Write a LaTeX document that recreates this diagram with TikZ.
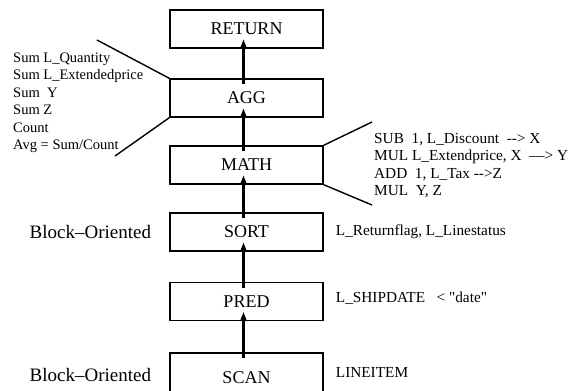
\documentclass[tikz,border=0pt]{standalone}
\usepackage{fontspec}
\setmainfont{Liberation Serif}
\usetikzlibrary{positioning,arrows.meta}
\tikzset{
  opbox/.style={draw,line width=1.4pt,minimum width=153pt,minimum height=38pt,inner sep=0pt,font=\fontsize{18}{21}\selectfont},
  flow/.style={line width=2.6pt,-{Stealth[length=9pt,width=7pt]}},
  biglabel/.style={font=\fontsize{19}{22}\selectfont,inner sep=0pt},
  smalllabel/.style={font=\fontsize{14.5}{17.5}\selectfont,inner sep=0pt,align=left},
  sidelabel/.style={font=\fontsize{15.3}{17.5}\selectfont,inner sep=0pt,align=left},
  callout/.style={line width=1.4pt}
}
\begin{document}
\begin{tikzpicture}[x=1pt,y=-1pt]
        \useasboundingbox (0,0) rectangle (571,391);
        %% operator boxes
        \node[opbox] (return) at (246.5,29) {RETURN};
        \node[opbox] (agg) at (246.5,98) {AGG};
        \node[opbox] (math) at (246.5,165) {MATH};
        \node[opbox] (sort) at (246.5,232) {SORT};
        \node[opbox] (pred) at (246.5,301.5) {PRED};
        \node[opbox,minimum height=50pt] (scan) at (246.5,378) {SCAN};
        %% data flow
        \foreach \lo/\hi in {scan/pred,pred/sort,sort/math,math/agg,agg/return}
            \draw[flow] ([xshift=-3pt,yshift=-6pt]\lo.north) -- ([xshift=-3pt,yshift=9pt]\hi.south);
        %% callouts
        \coordinate (aggup) at (97,40);
        \coordinate (agglo) at (115,156);
        \coordinate (mathup) at (372,122);
        \coordinate (mathlo) at (372,205);
        \draw[callout] (agg.north west) -- (aggup);
        \draw[callout] (agg.south west) -- (agglo);
        \draw[callout] (math.north east) -- (mathup);
        \draw[callout] (math.south east) -- (mathlo);
        %% aggregates and expressions
        \node[smalllabel,anchor=west] (aggops) at (13,103) {Sum L\_Quantity\\Sum L\_Extendedprice\\Sum\ \ Y\\Sum Z\\Count\\Avg = Sum/Count};
        \node[sidelabel,anchor=west] (mathops) at (374,165.5) {SUB\ \ 1, L\_Discount\ \ -{}-> X\\MUL\ L\_Extendprice, X\ \ ---> Y\\ADD\ \ 1, L\_Tax -{}->Z\\MUL\ \ Y, Z};
        %% keys and tables
        \node[sidelabel,right=12pt of sort] (sortkeys) {L\_Returnflag, L\_Linestatus};
        \node[sidelabel,right=12pt of pred,yshift=3.5pt] (predcond) {L\_SHIPDATE\ \ \ < \textquotedbl date\textquotedbl};
        \node[sidelabel,right=12pt of scan,yshift=6pt] (scantable) {LINEITEM};
        %% access mode
        \node[biglabel,left=18pt of sort] (sortmode) {Block--Oriented};
        \node[biglabel,left=18pt of scan,yshift=3pt] (scanmode) {Block--Oriented};
    \end{tikzpicture}
\end{document}
